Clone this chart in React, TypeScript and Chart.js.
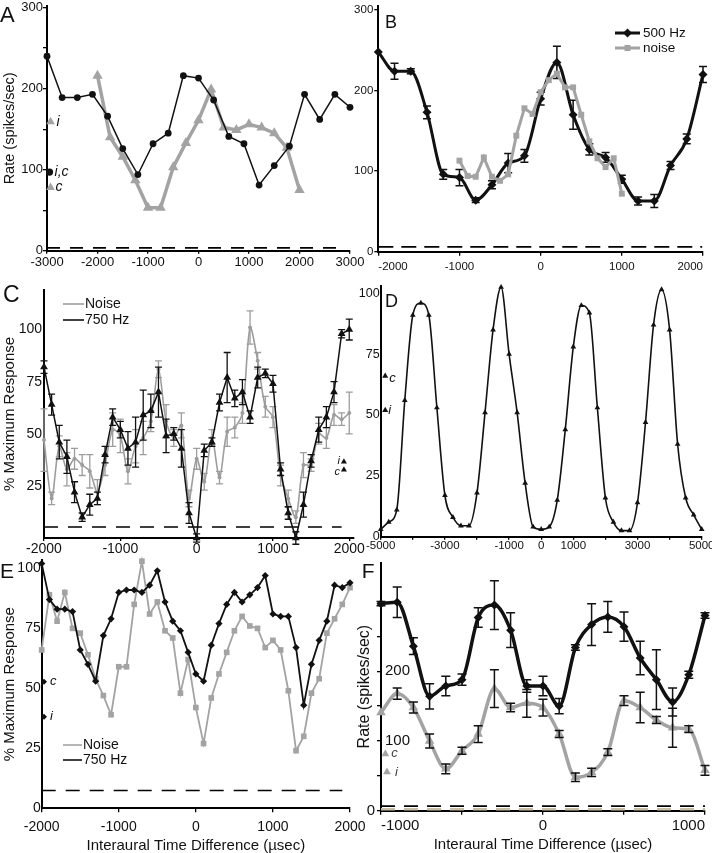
import React, { useEffect, useRef } from 'react';
import { Chart, registerables } from 'chart.js';

Chart.register(...registerables);

const FONT = '"Liberation Sans", Arial, Helvetica, sans-serif';
const BLACK = '#111111';
const GRAY = '#a3a3a3';
const LGRAY = '#9d9d9d';
const TAN = '#c6bda6';

// ---------------- Panel A ----------------
const aBlackX = [-3000, -2700, -2400, -2100, -1800, -1500, -1200, -900, -600, -300, 0, 300, 600, 900, 1200, 1500, 1800, 2100, 2400, 2700, 3000];
const aBlackY = [240, 189, 189, 193, 166, 126, 94, 132, 145, 216, 213, 186, 141, 132, 81, 105, 129, 193, 162, 193, 177];
const aGrayX = [-2000, -1750, -1500, -1250, -1000, -750, -500, -250, 0, 250, 500, 750, 1000, 1250, 1500, 1750, 2000];
const aGrayY = [216, 140, 116, 87, 53, 53, 103, 133, 161, 199, 152, 149, 156, 152, 145, 127, 75];
const aXTicks = [-3000, -2000, -1000, 0, 1000, 2000, 3000];
const aYTicks = [0, 50, 100, 150, 200, 250, 300];
const aYLabels = [0, 100, 200, 300];
const aSpont = 3.5;

// ---------------- Panel B ----------------
const bToneX = [-2000, -1800, -1600, -1400, -1200, -1000, -800, -600, -400, -200, 0, 200, 400, 600, 800, 1000, 1200, 1400, 1600, 1800, 2000];
const bToneY = [248, 224, 224, 173, 96, 92, 64, 83, 110, 119, 190, 235, 170, 127, 117, 90, 63, 63, 107, 140, 220];
const bToneErr = [0, 10, 3, 8, 6, 10, 3, 5, 12, 8, 8, 20, 18, 7, 6, 5, 5, 8, 5, 6, 10];
const bNoiseX = [-1000, -900, -800, -700, -600, -500, -400, -300, -200, -100, 0, 100, 200, 300, 400, 500, 600, 700, 800, 900, 1000];
const bNoiseY = [113, 94, 93, 117, 93, 88, 96, 144, 178, 171, 198, 213, 221, 204, 204, 170, 137, 116, 105, 116, 72];
const bXTicks = [-2000, -1000, 0, 1000, 2000];
const bYTicks = [0, 100, 200, 300];
const bSpont = 6;

// ---------------- Panel C ----------------
const cX = [-2000, -1900, -1800, -1700, -1600, -1500, -1400, -1300, -1200, -1100, -1000, -900, -800, -700, -600, -500, -400, -300, -200, -100, 0, 100, 200, 300, 400, 500, 600, 700, 800, 900, 1000, 1100, 1200, 1300, 1400, 1500, 1600, 1700, 1800, 1900, 2000];
const cToneY = [82, 64, 46, 39, 22, 10, 16, 19, 40, 58, 52, 43, 46, 59, 61, 70, 49, 50, 43, 12, 0, 42, 46, 65, 77, 67, 70, 58, 77, 79, 74, 33, 12, 0, 16, 37, 52, 58, 70, 98, 100];
const cToneErr = [3, 5, 8, 8, 5, 2, 5, 3, 4, 4, 4, 8, 12, 12, 8, 12, 8, 3, 9, 5, 2, 3, 2, 4, 12, 4, 6, 3, 5, 2, 4, 3, 3, 3, 6, 3, 6, 5, 5, 2, 5];
const cNoiseY = [47, 19, 44, 33, 38, 35, 32, 22, 35, 52, 49, 32, 44, 48, 56, 81, 56, 48, 54, 19, 38, 27, 48, 29, 51, 53, 60, 101, 85, 63, 58, 30, 19, 10, 35, 35, 50, 48, 59, 57, 60];
const cNoiseErr = [15, 3, 5, 8, 5, 5, 8, 6, 5, 8, 8, 6, 8, 8, 5, 4, 8, 4, 6, 4, 5, 4, 4, 3, 7, 5, 5, 8, 4, 5, 5, 5, 4, 3, 6, 3, 5, 5, 5, 3, 10];
const cXTicks = [-2000, -1000, 0, 1000, 2000];
const cYTicks = [25, 50, 75, 100];
const cSpont = 5.3;

// ---------------- Panel D ----------------
const dX = [-5000, -4750, -4500, -4250, -4000, -3750, -3500, -3250, -3000, -2750, -2500, -2250, -2000, -1750, -1500, -1250, -1000, -750, -500, -250, 0, 250, 500, 750, 1000, 1250, 1500, 1750, 2000, 2250, 2500, 2750, 3000, 3250, 3500, 3750, 4000, 4250, 4500, 4750, 5000];
const dY = [3, 6, 11, 56, 91, 96, 91, 53, 17, 8, 4.5, 4.5, 18, 51, 85, 102.5, 75, 51, 22, 4, 3, 4, 15, 44, 78, 95, 92, 53, 16, 6, 2.5, 2.5, 14, 47, 87, 101.5, 85, 38, 16, 9, 3];
const dXTicks = [-5000, -4000, -3000, -2000, -1000, 0, 1000, 2000, 3000, 4000, 5000];
const dXLabels = [-5000, -3000, -1000, 0, 1000, 3000, 5000];
const dYTicks = [0, 25, 50, 75, 100];

// ---------------- Panel E ----------------
const eX = [-2000, -1900, -1800, -1700, -1600, -1500, -1400, -1300, -1200, -1100, -1000, -900, -800, -700, -600, -500, -400, -300, -200, -100, 0, 100, 200, 300, 400, 500, 600, 700, 800, 900, 1000, 1100, 1200, 1300, 1400, 1500, 1600, 1700, 1800, 1900, 2000];
const eToneY = [102, 87, 83, 83, 82, 66, 60, 53, 72, 79, 90, 91, 91, 90, 93, 99, 86, 78, 74, 65, 56, 53, 68, 77, 85, 90, 86, 89, 92, 97, 81, 80, 80, 67, 43, 60, 70, 78, 93, 92, 94];
const eNoiseY = [66, 89, 78, 90, 75, 73, 64, 54, 47, 39, 59, 59, 85, 103, 81, 86, 74, 71, 48, 62, 42, 27, 46, 56, 65, 74, 80, 76, 75, 67, 70, 66, 49, 24, 30, 48, 54, 73, 79, 85, 92];
const eXTicks = [-2000, -1000, 0, 1000, 2000];
const eYTicks = [0, 25, 50, 75, 100];
const eSpont = 7.4;

// ---------------- Panel F ----------------
const fX = [-1000, -900, -800, -700, -600, -500, -400, -300, -200, -100, 0, 100, 200, 300, 400, 500, 600, 700, 800, 900, 1000];
const fToneY = [297, 299, 236, 164, 179, 188, 277, 295, 259, 179, 179, 150, 234, 267, 278, 264, 219, 188, 156, 195, 280];
const fToneErr = [3, 22, 12, 18, 14, 8, 14, 35, 25, 9, 14, 11, 4, 30, 22, 21, 24, 43, 20, 5, 4];
const fNoiseY = [141, 168, 148, 100, 60, 86, 110, 175, 148, 154, 148, 110, 48, 55, 84, 158, 148, 130, 119, 117, 58];
const fNoiseErr = [0, 8, 8, 10, 7, 5, 12, 27, 6, 20, 12, 5, 6, 6, 5, 7, 22, 5, 28, 5, 7];
const fXTicks = [-1000, -500, 0, 500, 1000];
const fXLabels = [-1000, 0, 1000];
const fYTicks = [0, 50, 100, 150, 200, 250, 300];
const fSpontTone = 6.6;
const fSpontNoise = 2;

// ---------------- helpers ----------------
const pts = (xs: number[], ys: number[]) => xs.map((x, i) => ({ x, y: ys[i] }));

const errorBars = {
  id: 'errorBars',
  afterDatasetDraw(chart: any, args: any) {
    const ds: any = chart.data.datasets[args.index];
    if (!ds.errors) return;
    const ys = chart.scales.y;
    const ctx = chart.ctx;
    ctx.save();
    ctx.strokeStyle = ds.errorColor || '#000';
    ctx.lineWidth = ds.errorWidth || 1.3;
    const cap = ds.capWidth || 4;
    args.meta.data.forEach((el: any, j: number) => {
      const e = ds.errors[j];
      if (!e) return;
      const v = ds.data[j].y;
      const t = ys.getPixelForValue(v + e);
      const b = ys.getPixelForValue(v - e);
      ctx.beginPath();
      ctx.moveTo(el.x, t); ctx.lineTo(el.x, b);
      ctx.moveTo(el.x - cap, t); ctx.lineTo(el.x + cap, t);
      ctx.moveTo(el.x - cap, b); ctx.lineTo(el.x + cap, b);
      ctx.stroke();
    });
    ctx.restore();
  },
};
Chart.register(errorBars);

function ds(data: any[], o: any) {
  return {
    type: 'line',
    data,
    clip: false,
    borderColor: o.color,
    borderWidth: o.lw ?? 1.5,
    borderDash: o.dash ?? [],
    pointStyle: o.ps ?? 'circle',
    pointRadius: o.r ?? 0,
    pointHoverRadius: 0,
    pointBackgroundColor: o.pc ?? o.color,
    pointBorderColor: o.pc ?? o.color,
    pointBorderWidth: 0,
    showLine: o.show ?? true,
    cubicInterpolationMode: o.smooth ? 'monotone' : 'default',
    tension: o.tension ?? 0,
    order: o.order ?? 1,
    errors: o.err,
    errorColor: o.ec,
    errorWidth: o.ew,
    capWidth: o.cap,
  };
}

function axis(a: any, horizontal: boolean) {
  return {
    type: 'linear',
    min: a.min,
    max: a.max,
    afterBuildTicks: (s: any) => { s.ticks = a.ticks.map((v: number) => ({ value: v })); },
    afterFit: (s: any) => {
      if (horizontal) { s.height = a.size; s.paddingLeft = 0; s.paddingRight = 0; }
      else { s.width = a.size; s.paddingTop = 0; s.paddingBottom = 0; }
    },
    ticks: {
      autoSkip: false, maxRotation: 0, minRotation: 0,
      padding: a.pad ?? 2,
      align: a.align || 'center',
      color: BLACK,
      font: { family: FONT, size: a.font },
      callback: (v: number) => ((a.labels || a.ticks).indexOf(v) >= 0 ? String(v) : ''),
    },
    grid: {
      drawOnChartArea: false,
      drawTicks: (a.tl ?? 4) > 0,
      tickLength: a.tl ?? 4,
      color: '#000',
      lineWidth: 1.3,
    },
    border: { display: true, color: '#000', width: 2 },
    title: a.title
      ? { display: true, text: a.title, color: BLACK, font: { family: FONT, size: a.titleFont, lineHeight: 1 }, padding: a.titlePad }
      : { display: false },
  };
}

function config(datasets: any[], xa: any, ya: any, padding: any, draw: (chart: any, ctx: any) => void) {
  return {
    type: 'line',
    data: { datasets },
    options: {
      responsive: false,
      animation: false,
      events: [],
      layout: { padding },
      plugins: { legend: { display: false }, tooltip: { enabled: false }, title: { display: false } },
      scales: { x: axis(xa, true), y: axis(ya, false) },
    },
    plugins: [{ id: 'annot', afterDraw: (chart: any) => draw(chart, chart.ctx) }],
  };
}

function text(ctx: any, s: string, x: number, y: number, size: number, o: any = {}) {
  ctx.save();
  ctx.font = `${o.italic ? 'italic ' : ''}${size}px ${FONT}`;
  ctx.fillStyle = o.color || BLACK;
  ctx.textAlign = o.align || 'left';
  ctx.textBaseline = o.baseline || 'alphabetic';
  ctx.fillText(s, x, y);
  ctx.restore();
}

function at(chart: any, x: number, y: number) {
  return [chart.scales.x.getPixelForValue(x), chart.scales.y.getPixelForValue(y)];
}

function shape(ctx: any, kind: string, x: number, y: number, r: number, color: string) {
  ctx.save();
  ctx.fillStyle = color;
  ctx.beginPath();
  if (kind === 'diamond') {
    ctx.moveTo(x, y - r); ctx.lineTo(x + r, y); ctx.lineTo(x, y + r); ctx.lineTo(x - r, y); ctx.closePath();
  } else if (kind === 'square') {
    ctx.rect(x - r, y - r, 2 * r, 2 * r);
  }
  ctx.fill();
  ctx.restore();
}

function legendLine(ctx: any, x1: number, x2: number, y: number, color: string, lw: number) {
  ctx.save();
  ctx.strokeStyle = color;
  ctx.lineWidth = lw;
  ctx.beginPath(); ctx.moveTo(x1, y); ctx.lineTo(x2, y); ctx.stroke();
  ctx.restore();
}

// ---------------- panel configs ----------------
function makeA() {
  const W = 372, H = 280, L = 47, R = 350, T = 5, B = 250.7;
  return config(
    [
      ds(pts(aBlackX, aBlackY), { color: BLACK, lw: 1.5, ps: 'circle', r: 3.4, order: 1 }),
      ds(pts(aGrayX, aGrayY), { color: GRAY, lw: 3.5, ps: 'triangle', r: 6, order: 2 }),
      ds([{ x: -3000, y: aSpont }, { x: 2900, y: aSpont }], { color: '#000', lw: 1.6, dash: [13, 10], order: 3 }),
      ds([{ x: -2950, y: 97 }], { color: BLACK, ps: 'circle', r: 3.6, show: false, order: 1 }),
      ds([{ x: -2930, y: 159 }, { x: -2930, y: 78 }], { color: GRAY, ps: 'triangle', r: 5, show: false, order: 1 }),
    ],
    { min: -3000, max: 3000, ticks: aXTicks, size: H - B, font: 13, pad: 1, tl: 3 },
    { min: 0, max: 302, ticks: aYTicks, labels: aYLabels, size: L, font: 13, pad: 0, tl: 4, title: 'Rate (spikes/sec)', titleFont: 14.5, titlePad: { top: 3, bottom: 0 } },
    { left: 0, right: W - R, top: T, bottom: 0 },
    (chart, ctx) => {
      text(ctx, 'A', 0, 22, 22);
      let p = at(chart, -2950, 97);
      text(ctx, 'i,c', p[0] + 5, p[1], 14, { italic: true, baseline: 'middle' });
      p = at(chart, -2930, 159);
      text(ctx, 'i', p[0] + 6, p[1], 14, { italic: true, baseline: 'middle' });
      p = at(chart, -2930, 78);
      text(ctx, 'c', p[0] + 5, p[1], 14, { italic: true, baseline: 'middle' });
    }
  );
}

function makeB() {
  const W = 362, H = 280, L = 28.3, R = 353, T = 6, B = 251.7;
  return config(
    [
      ds(pts(bNoiseX, bNoiseY), { color: GRAY, lw: 3, ps: 'rect', r: 4.2, order: 1 }),
      ds(pts(bToneX, bToneY), { color: BLACK, lw: 3, ps: 'rectRot', r: 4.5, smooth: true, order: 2, err: bToneErr, ec: BLACK, ew: 1.5, cap: 4 }),
      ds([{ x: -2000, y: bSpont }, { x: 1990, y: bSpont }], { color: '#000', lw: 1.6, dash: [15, 8], order: 3 }),
    ],
    { min: -2000, max: 2000, ticks: bXTicks, size: H - B, font: 11.5, pad: 4, tl: 4, align: 'inner' },
    { min: 0, max: 305, ticks: bYTicks, size: L, font: 11.5, pad: 1, tl: 4 },
    { left: 0, right: W - R, top: T, bottom: 0 },
    (chart, ctx) => {
      text(ctx, 'B', 35, 28.3, 18);
      legendLine(ctx, 265, 290, 33, BLACK, 3);
      shape(ctx, 'diamond', 277.5, 33, 4.5, BLACK);
      text(ctx, '500 Hz', 293, 33, 13.5, { baseline: 'middle' });
      legendLine(ctx, 265, 290, 48, GRAY, 3);
      shape(ctx, 'square', 277.5, 48, 3, GRAY);
      text(ctx, 'noise', 293, 48, 13.5, { baseline: 'middle' });
    }
  );
}

function makeC() {
  const W = 372, H = 283, L = 44, R = 353.3, T = 10, B = 258;
  return config(
    [
      ds(pts(cX, cToneY), { color: BLACK, lw: 1.5, ps: 'triangle', r: 4.5, order: 1, err: cToneErr, ec: BLACK, ew: 1.3, cap: 3.5 }),
      ds(pts(cX, cNoiseY), { color: LGRAY, lw: 1.6, ps: 'circle', r: 2, tension: 0.3, order: 2, err: cNoiseErr, ec: LGRAY, ew: 1.3, cap: 3.5 }),
      ds([{ x: -2000, y: cSpont }, { x: 1900, y: cSpont }], { color: '#000', lw: 1.5, dash: [14, 10], order: 3 }),
      ds([{ x: 1930, y: 36.6 }, { x: 1930, y: 32.7 }], { color: BLACK, ps: 'triangle', r: 3.5, show: false, order: 1 }),
    ],
    { min: -2000, max: 2053, ticks: cXTicks, size: H - B, font: 14, pad: 0, tl: 3 },
    { min: 0, max: 119, ticks: cYTicks, size: L, font: 14, pad: 2, tl: 0, title: '% Maximum Response', titleFont: 15, titlePad: { top: 2.5, bottom: 0 } },
    { left: 0, right: W - R, top: T, bottom: 0 },
    (chart, ctx) => {
      text(ctx, 'C', 3, 21.7, 23);
      legendLine(ctx, 63, 84, 24, LGRAY, 1.6);
      text(ctx, 'Noise', 85, 24, 14, { baseline: 'middle' });
      legendLine(ctx, 63, 84, 40, BLACK, 1.6);
      text(ctx, '750 Hz', 85, 40, 14, { baseline: 'middle' });
      let p = at(chart, 1930, 36.6);
      text(ctx, 'i', p[0] - 4, p[1] - 1, 11, { italic: true, baseline: 'middle', align: 'right' });
      p = at(chart, 1930, 32.7);
      text(ctx, 'c', p[0] - 4, p[1] + 2, 11, { italic: true, baseline: 'middle', align: 'right' });
    }
  );
}

function makeD() {
  const W = 362, H = 283, L = 30.7, R = 351.7, T = 6, B = 256.7;
  return config(
    [
      ds(pts(dX, dY), { color: BLACK, lw: 1.6, ps: 'triangle', r: 3.3, smooth: true, order: 1 }),
      ds([{ x: -4860, y: 66 }, { x: -4860, y: 52 }], { color: BLACK, ps: 'triangle', r: 3.5, show: false, order: 1 }),
    ],
    { min: -5000, max: 5000, ticks: dXTicks, labels: dXLabels, size: H - B, font: 11.5, pad: -1, tl: 3 },
    { min: 0, max: 103, ticks: dYTicks, size: L, font: 12.5, pad: 1, tl: 0 },
    { left: 0, right: W - R, top: T, bottom: 0 },
    (chart, ctx) => {
      text(ctx, 'D', 35, 26.7, 18);
      let p = at(chart, -4860, 66);
      text(ctx, 'c', p[0] + 4, p[1] + 2, 13, { italic: true, baseline: 'middle' });
      p = at(chart, -4860, 52);
      text(ctx, 'i', p[0] + 3, p[1], 13, { italic: true, baseline: 'middle' });
    }
  );
}

function makeE() {
  const W = 370, H = 298, L = 41.7, R = 350, T = 5, B = 253.3;
  return config(
    [
      ds(pts(eX, eToneY), { color: BLACK, lw: 1.8, ps: 'rectRot', r: 3.6, order: 1 }),
      ds(pts(eX, eNoiseY), { color: GRAY, lw: 1.8, ps: 'rect', r: 4, order: 2 }),
      ds([{ x: -2000, y: eSpont }, { x: 1900, y: eSpont }], { color: '#000', lw: 1.6, dash: [14, 10], order: 3 }),
      ds([{ x: -1970, y: 52.8 }, { x: -1970, y: 38.2 }], { color: BLACK, ps: 'rectRot', r: 3, show: false, order: 1 }),
    ],
    { min: -2000, max: 2000, ticks: eXTicks, size: H - B, font: 14, pad: 6, tl: 4, title: 'Interaural Time Difference (µsec)', titleFont: 15, titlePad: { top: 0, bottom: 0 } },
    { min: 0, max: 103.5, ticks: eYTicks, size: L, font: 14, pad: 1, tl: 0, title: '% Maximum Response', titleFont: 15, titlePad: { top: 2.5, bottom: 0 } },
    { left: 0, right: W - R, top: T, bottom: 0 },
    (chart, ctx) => {
      text(ctx, 'E', 0, 23.3, 21);
      legendLine(ctx, 63, 82, 190, GRAY, 1.6);
      text(ctx, 'Noise', 83, 190, 14, { baseline: 'middle' });
      legendLine(ctx, 63, 82, 205, BLACK, 1.6);
      text(ctx, '750 Hz', 83, 205, 14, { baseline: 'middle' });
      let p = at(chart, -1970, 52.8);
      text(ctx, 'c', p[0] + 6, p[1], 13, { italic: true, baseline: 'middle' });
      p = at(chart, -1970, 38.2);
      text(ctx, 'i', p[0] + 6, p[1], 13, { italic: true, baseline: 'middle' });
    }
  );
}

function makeF() {
  const W = 362, H = 296, L = 31, R = 355, T = 3, B = 253.7;
  return config(
    [
      ds(pts(fX, fToneY), { color: BLACK, lw: 3.5, ps: 'rectRot', r: 4.5, smooth: true, order: 1, err: fToneErr, ec: BLACK, ew: 1.5, cap: 4.5 }),
      ds(pts(fX, fNoiseY), { color: GRAY, lw: 3.5, ps: 'triangle', r: 5.5, smooth: true, order: 2, err: fNoiseErr, ec: BLACK, ew: 1.5, cap: 4.5 }),
      ds([{ x: -1000, y: fSpontTone }, { x: 1000, y: fSpontTone }], { color: '#000', lw: 1.6, dash: [14, 9], order: 3 }),
      ds([{ x: -1000, y: fSpontNoise }, { x: 1000, y: fSpontNoise }], { color: TAN, lw: 2.5, dash: [14, 9], order: 4 }),
      ds([{ x: -973, y: 81.5 }, { x: -963, y: 55.5 }], { color: GRAY, ps: 'triangle', r: 4.5, show: false, order: 1 }),
    ],
    { min: -1000, max: 1000, ticks: fXTicks, labels: fXLabels, size: H - B, font: 15, pad: 2, tl: 4, align: 'inner', title: 'Interaural Time Difference (µsec)', titleFont: 15, titlePad: { top: 0, bottom: 1 } },
    { min: 0, max: 356, ticks: fYTicks, labels: [], size: L, font: 15, pad: 2, tl: 4, title: 'Rate (spikes/sec)', titleFont: 16, titlePad: { top: 7, bottom: 0 } },
    { left: 0, right: W - R, top: T, bottom: 0 },
    (chart, ctx) => {
      text(ctx, 'F', 11.7, 21.3, 21);
      let p = at(chart, -1000, 0);
      text(ctx, '0', p[0] - 6, p[1], 15, { baseline: 'middle', align: 'right' });
      p = at(chart, -1000, 100);
      text(ctx, '100', p[0] + 4, p[1], 15, { baseline: 'middle' });
      p = at(chart, -1000, 200);
      text(ctx, '200', p[0] + 4, p[1], 15, { baseline: 'middle' });
      p = at(chart, -973, 81.5);
      text(ctx, 'c', p[0] + 6, p[1], 13, { italic: true, baseline: 'middle', color: '#444' });
      p = at(chart, -963, 55.5);
      text(ctx, 'i', p[0] + 8, p[1], 13, { italic: true, baseline: 'middle', color: '#444' });
    }
  );
}

function ChartCanvas({ left, top, width, height, make }: any) {
  const ref = useRef<HTMLCanvasElement>(null);
  useEffect(() => {
    const chart = new Chart(ref.current as HTMLCanvasElement, make() as any);
    return () => chart.destroy();
  }, []);
  return (
    <canvas
      ref={ref}
      width={width}
      height={height}
      style={{ position: 'absolute', left, top, width, height }}
    />
  );
}

export default function App() {
  return (
    <div style={{ position: 'absolute', left: 0, top: 0, width: 712, height: 853, background: '#fff', overflow: 'hidden' }}>
      <ChartCanvas left={0} top={0} width={372} height={280} make={makeA} />
      <ChartCanvas left={350} top={0} width={362} height={280} make={makeB} />
      <ChartCanvas left={0} top={280} width={372} height={283} make={makeC} />
      <ChartCanvas left={350} top={280} width={362} height={283} make={makeD} />
      <ChartCanvas left={0} top={555} width={370} height={298} make={makeE} />
      <ChartCanvas left={350} top={557} width={362} height={296} make={makeF} />
    </div>
  );
}
